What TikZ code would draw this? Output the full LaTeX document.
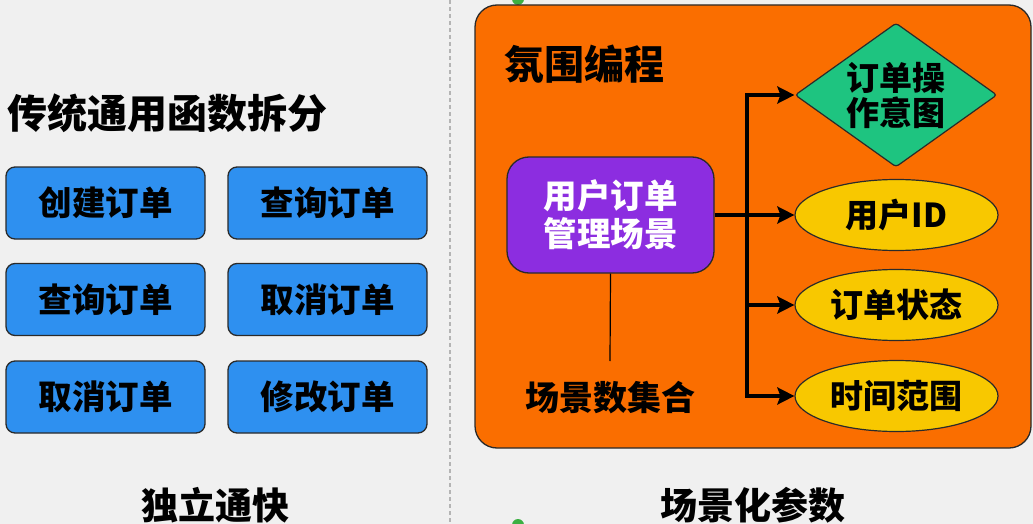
\documentclass[tikz,border=0pt]{standalone}
\usepackage{fontspec}
\setmainfont{Noto Sans CJK SC}
\usetikzlibrary{shapes.geometric,arrows.meta}
\definecolor{bgc}{HTML}{F0F0F0}
\definecolor{orangec}{HTML}{FA6E00}
\definecolor{bluec}{HTML}{2E90F0}
\definecolor{purplec}{HTML}{8C2DE0}
\definecolor{greenc}{HTML}{1EC480}
\definecolor{yellowc}{HTML}{F8C800}
\definecolor{edgec}{HTML}{2A2A2A}
\definecolor{dashc}{HTML}{B4B4B4}
\definecolor{dotc}{HTML}{3CB043}
\tikzset{
  bluebox/.style={draw=edgec, line width=1.3pt, fill=bluec, rounded corners=9pt,
    minimum width=199pt, minimum height=72pt, inner sep=0pt,
    font=\fontsize{33.5}{36}\selectfont\bfseries, text=black},
  scenebox/.style={draw=edgec, line width=1.3pt, fill=purplec, rounded corners=22pt,
    minimum width=207pt, minimum height=116pt, inner sep=0pt, align=center,
    font=\fontsize{33.5}{38}\selectfont\bfseries, text=white},
  intent/.style={diamond, aspect=1.4, draw=edgec, line width=1.2pt, fill=greenc,
    minimum width=202pt, minimum height=144pt, inner sep=0pt, align=center,
    rounded corners=3pt, font=\fontsize{33}{35}\selectfont\bfseries, text=black},
  param/.style={ellipse, draw=edgec, line width=1.2pt, fill=yellowc,
    minimum width=203pt, minimum height=71pt, inner sep=0pt,
    font=\fontsize{33}{35}\selectfont\bfseries, text=black},
  heading/.style={font=\fontsize{40}{42}\selectfont\bfseries, text=black, inner sep=0pt},
  caption/.style={font=\fontsize{37}{40}\selectfont\bfseries, text=black, inner sep=0pt},
  plain/.style={font=\fontsize{34}{36}\selectfont\bfseries, text=black, inner sep=0pt},
  arr/.style={line width=4pt, -{Stealth[length=17pt,width=17pt,inset=3pt]}},
  trunk/.style={line width=4pt},
}
\begin{document}
\begin{tikzpicture}[x=1pt,y=-1pt]
\useasboundingbox (0,0) rectangle (1033,524);
\fill[bgc] (0,0) rectangle (1033,524);
% divider
\draw[dashc, line width=1.6pt, dash pattern=on 4pt off 3pt] (450,0) -- (450,524);
\fill[dotc] (518,-1) circle (6pt);
\fill[dotc] (518,525) circle (6pt);
% left side
\node[heading, anchor=west] (tl) at (7,113) {传统通用函数拆分};
\node[bluebox] (b1) at (105.5,203) {创建订单};
\node[bluebox] (b2) at (327.5,203) {查询订单};
\node[bluebox] (b3) at (105.5,299.5) {查询订单};
\node[bluebox] (b4) at (327.5,299.5) {取消订单};
\node[bluebox] (b5) at (105.5,397) {取消订单};
\node[bluebox] (b6) at (327.5,397) {修改订单};
\node[caption] (cl) at (215,505) {独立通快};
% right side
\draw[edgec, line width=1.3pt, fill=orangec, rounded corners=22pt] (475,5) rectangle (1031,448);
\node[heading, anchor=west] (tr) at (504,64) {氛围编程};
\node[scenebox] (p) at (610.5,215) {用户订单\\管理场景};
\coordinate (le) at (610,361);
\draw[black, line width=1.2pt] (p.south) -- (le);
\node[plain] (ps) at (610,398) {场景数集合};
\node[intent] (d) at (896,95) {订单操\\作意图};
\node[param] (e1) at (896.5,215) {用户ID};
\node[param] (e2) at (896.5,305) {订单状态};
\node[param] (e3) at (896.5,396) {时间范围};
\coordinate (j) at (747,215);
\draw[trunk] (p.east) -- (j);
\draw[trunk, line cap=rect] (d.west -| j) -- (e3.west -| j);
\draw[arr] (d.west -| j) -- (d.west);
\draw[arr] (e1.west -| j) -- (e1.west);
\draw[arr] (e2.west -| j) -- (e2.west);
\draw[arr] (e3.west -| j) -- (e3.west);
\node[caption] (cr) at (753,505) {场景化参数};
\end{tikzpicture}
\end{document}
